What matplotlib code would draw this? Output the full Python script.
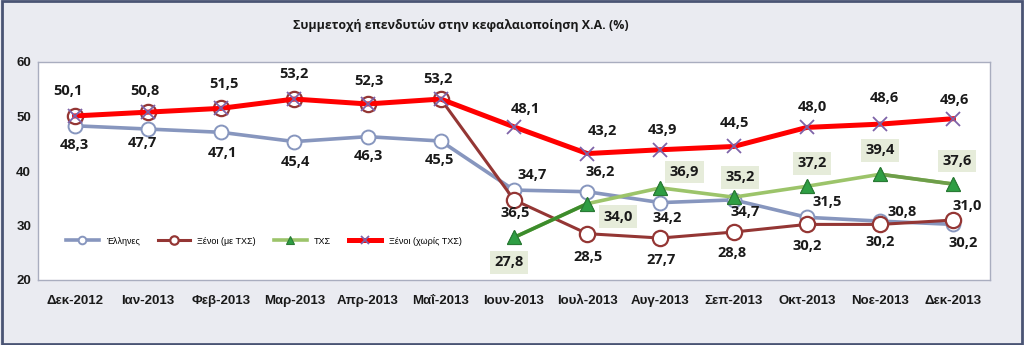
import matplotlib
matplotlib.use('Agg')
import numpy as np
import matplotlib.pyplot as plt
from matplotlib.patches import Rectangle

# ---- data ----
months = ['Δεκ-2012', 'Ιαν-2013', 'Φεβ-2013', 'Μαρ-2013', 'Απρ-2013', 'Μαΐ-2013', 'Ιουν-2013',
          'Ιουλ-2013', 'Αυγ-2013', 'Σεπ-2013', 'Οκτ-2013', 'Νοε-2013', 'Δεκ-2013']
ellines = [48.3, 47.7, 47.1, 45.4, 46.3, 45.5, 36.5, 36.2, 34.2, 34.7, 31.5, 30.8, 30.2]
xenoi_me = [50.1, 50.8, 51.5, 53.2, 52.3, 53.2, 34.7, 28.5, 27.7, 28.8, 30.2, 30.2, 31.0]
txs = [np.nan] * 6 + [27.8, 34.0, 36.9, 35.2, 37.2, 39.4, 37.6]
xenoi_xoris = [50.1, 50.8, 51.5, 53.2, 52.3, 53.2, 48.1, 43.2, 43.9, 44.5, 48.0, 48.6, 49.6]

# label offsets in pixels (dx, dy up)
off_ellines = [(0, -19), (-5, -14), (1, -21), (1, -20), (1, -19), (-1, -19), (1, -23),
               (13, 20), (7, -15), (11, -12), (20, 15), (22, 9), (10, -19)]
off_xenoi_me = [(18, 25), (1, -23), (1, -22), (-2, -21), (0, -22), (0, -18), (14, 14)]
off_txs = [(-5, -25), (31, -13), (24, 16), (6, 20), (5, 23), (0, 24), (4, 23)]
off_xoris = [(-7, 25), (-3, 21), (3, 24), (0, 25), (1, 23), (-3, 20), (11, 18),
             (15, 23), (2, 20), (1, 23), (5, 20), (4, 26), (1, 19)]

C_GR = '#8796BE'
C_DR = '#943634'
C_RED = '#FF0000'
C_X = '#7E63A8'
C_TRI = '#2E9E43'
C_GL = '#9CC46A'

fig = plt.figure(figsize=(10.24, 3.45), dpi=100, facecolor='#EAEBF1')
fig.patches.append(Rectangle((0.002, 0.003), 0.996, 0.994, transform=fig.transFigure,
                             fill=False, edgecolor='#4A5474', linewidth=2))
ax = fig.add_axes([38 / 1024, 1 - 280 / 345, 952 / 1024, 218 / 345])
ax.set_facecolor('white')

x = np.arange(len(months))
ax.plot(x, ellines, color=C_GR, lw=2.6, marker='o', ms=10, mfc='white', mec=C_GR, mew=1.4,
        label='Έλληνες', zorder=3)
ax.plot(x, xenoi_me, color=C_DR, lw=2.2, marker='o', ms=11, mfc='white', mec=C_DR, mew=1.6,
        label='Ξένοι (με ΤΧΣ)', zorder=4)
ax.plot(x, txs, color=C_GL, lw=2.6, marker='^', ms=10, mfc=C_TRI, mec='#2A7A35', mew=0.8,
        label='ΤΧΣ', zorder=5)
# darker first and last segments of the ΤΧΣ line
ax.plot(x[6:8], txs[6:8], color='#3C8C2C', lw=2.6, zorder=5)
ax.plot(x[11:13], txs[11:13], color='#6E9E4A', lw=2.6, zorder=5)
ax.plot(x[6:], txs[6:], ls='none', marker='^', ms=10, mfc=C_TRI, mec='#2A7A35', mew=0.8, zorder=6)
ax.plot(x, xenoi_xoris, color=C_RED, lw=3.6, marker='x', ms=10, mec=C_X, mew=1.3,
        label='Ξένοι (χωρίς ΤΧΣ)', zorder=7)

lab_font = dict(family='Open Sans', weight='bold', fontsize=10.5, color='#1A1A1A')


def fmt(v):
    return f'{v:.1f}'.replace('.', ',')


for i, v in enumerate(ellines):
    ax.annotate(fmt(v), (i, v), xytext=off_ellines[i], textcoords='offset pixels',
                ha='center', va='center', zorder=8, **lab_font)
for k, i in enumerate(range(6, 13)):
    ax.annotate(fmt(xenoi_me[i]), (i, xenoi_me[i]), xytext=off_xenoi_me[k],
                textcoords='offset pixels', ha='center', va='center', zorder=8, **lab_font)
    ax.annotate(fmt(txs[i]), (i, txs[i]), xytext=off_txs[k], textcoords='offset pixels',
                ha='center', va='center', zorder=8,
                bbox=dict(boxstyle='square,pad=0.3', fc='#E6ECDA', ec='none'), **lab_font)
for i, v in enumerate(xenoi_xoris):
    ax.annotate(fmt(v), (i, v), xytext=off_xoris[i], textcoords='offset pixels',
                ha='center', va='center', zorder=8, **lab_font)

ax.set_xlim(-0.5, 12.5)
ax.set_ylim(20, 60)
ax.set_yticks([20, 30, 40, 50, 60])
ax.set_xticks(x)
ax.set_xticklabels(months)
ax.tick_params(length=0)
ax.tick_params(axis='x', pad=11)
ax.tick_params(axis='y', pad=5)
for t in ax.get_xticklabels() + ax.get_yticklabels():
    t.set_family('Liberation Sans')
    t.set_fontweight('bold')
    t.set_fontsize(9.5)
    t.set_color('#1A1A1A')
for s in ax.spines.values():
    s.set_color('#A9ADBF')
    s.set_linewidth(1)

leg = fig.legend(handles=ax.get_lines()[:2] + [ax.get_lines()[2], ax.get_lines()[6]],
                 labels=['Έλληνες', 'Ξένοι (με ΤΧΣ)', 'ΤΧΣ', 'Ξένοι (χωρίς ΤΧΣ)'],
                 loc='center left', bbox_to_anchor=(66 / 1024, 1 - 241 / 345), ncol=4,
                 frameon=False, prop=dict(family='Liberation Sans', size=6.5),
                 handlelength=3.6, handletextpad=0.8, columnspacing=2.0,
                 borderpad=0, borderaxespad=0, markerscale=0.55)

fig.text(461 / 1024, 1 - 25 / 345, 'Συμμετοχή επενδυτών στην κεφαλαιοποίηση Χ.Α. (%)',
         ha='center', va='center', family='Open Sans', weight='bold', fontsize=8.9,
         color='#1A1A1A')

fig.savefig('out.png', dpi=100, facecolor=fig.get_facecolor())
